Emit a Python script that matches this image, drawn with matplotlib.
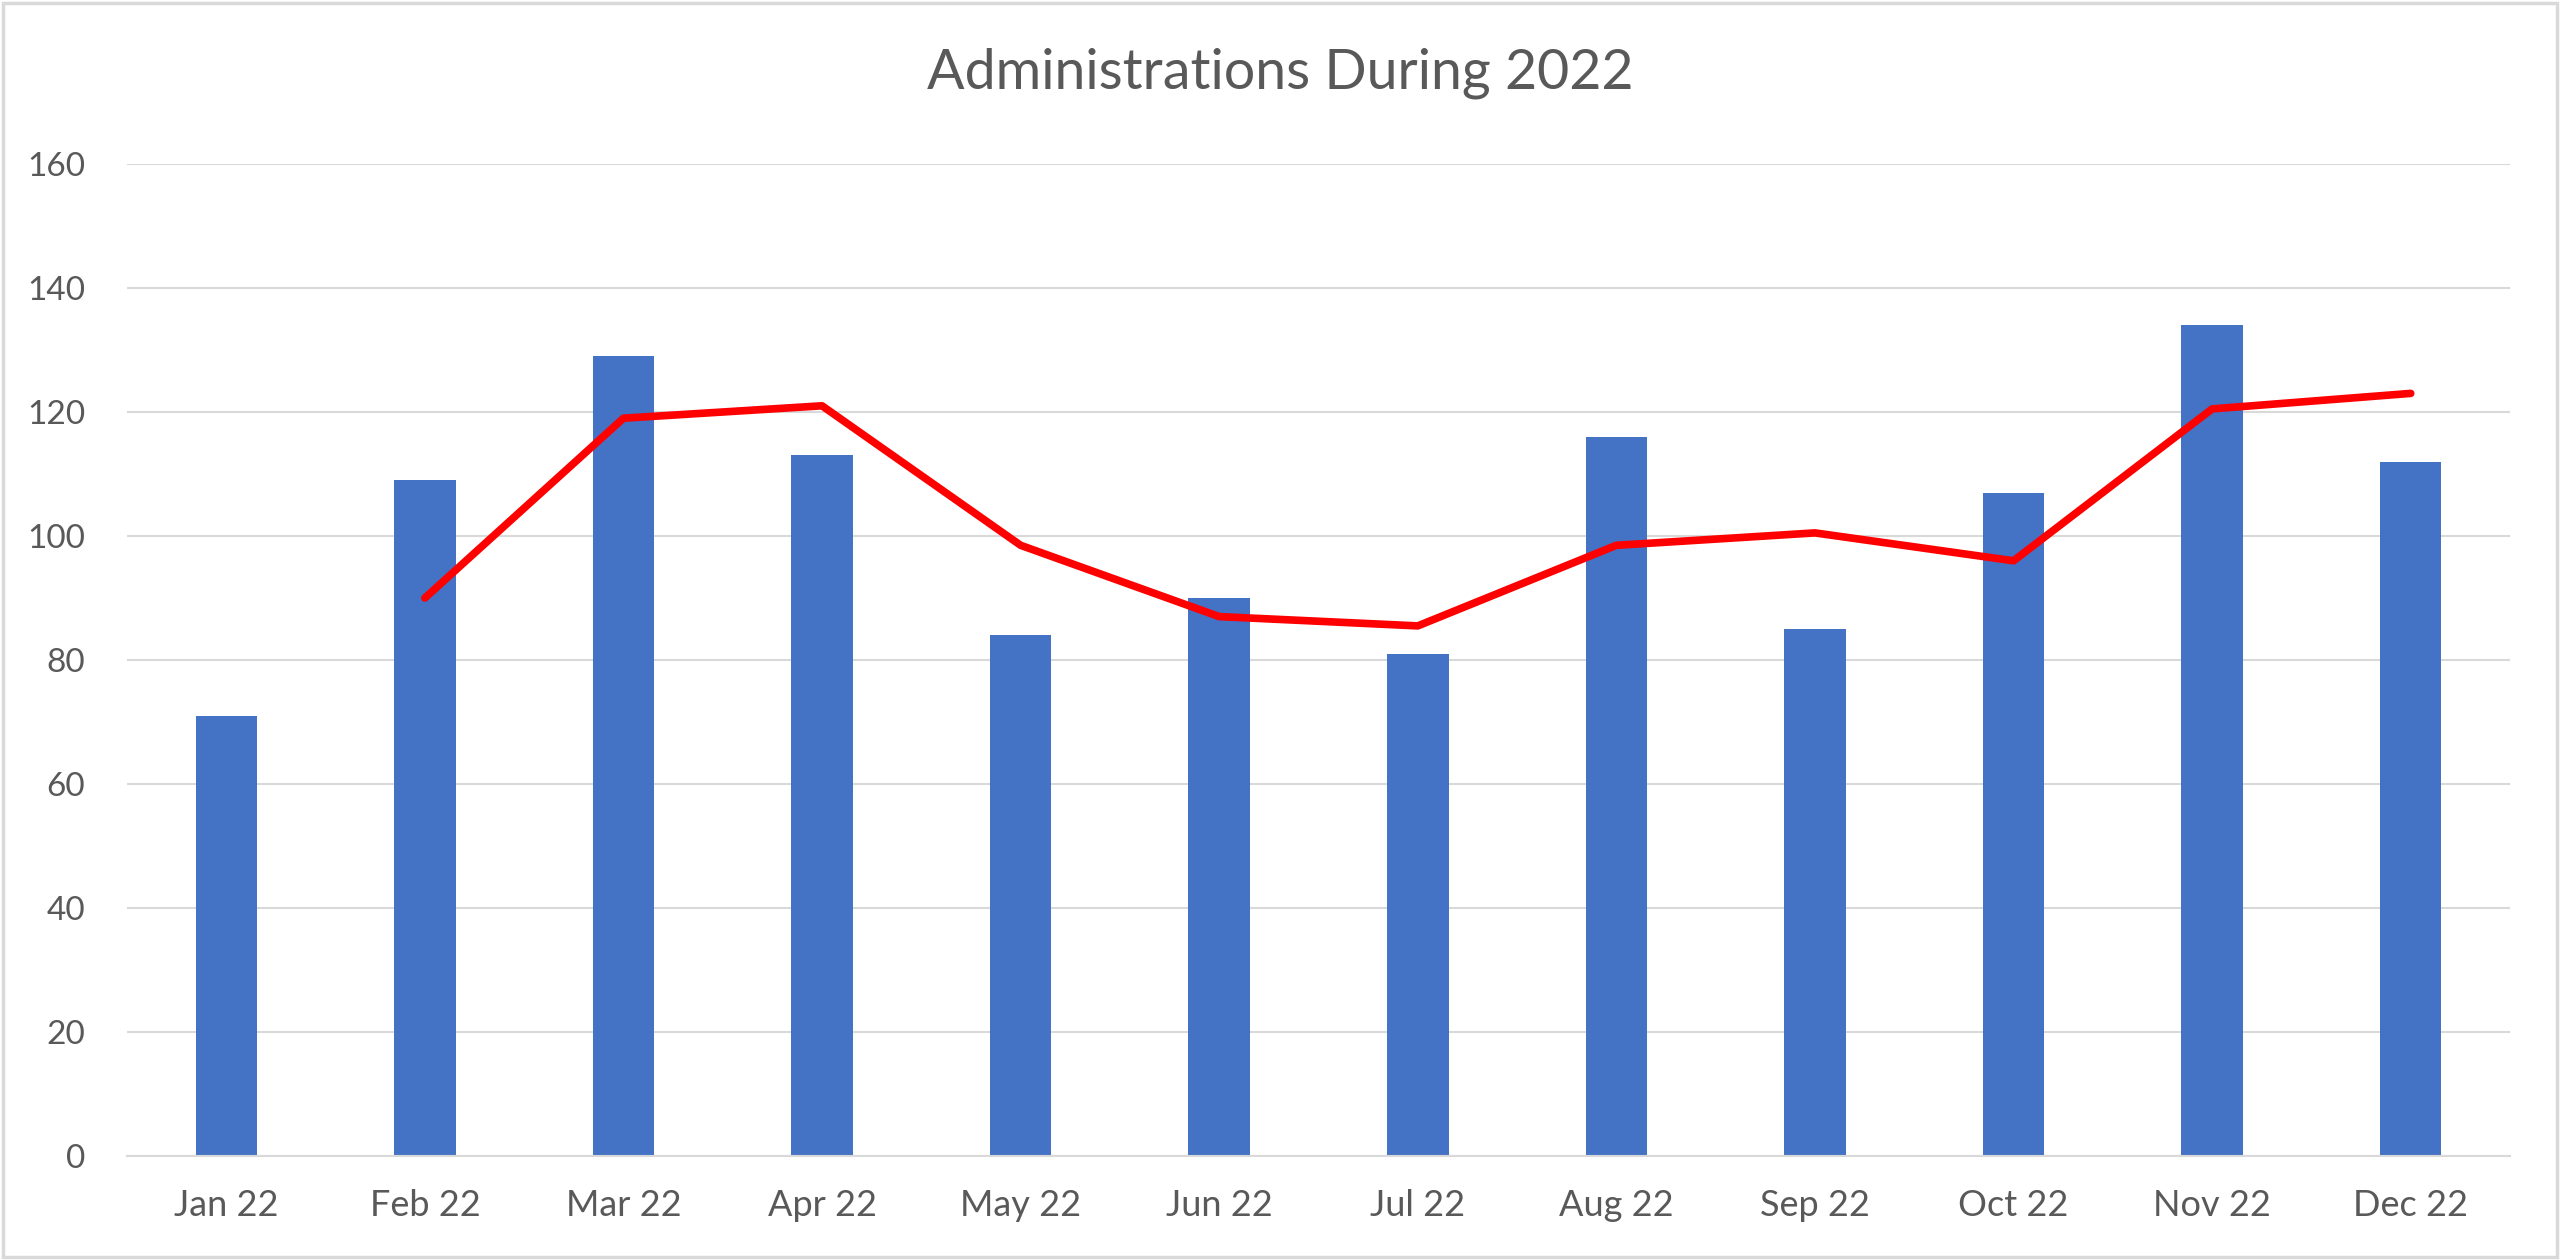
import matplotlib
matplotlib.use("Agg")
import matplotlib.pyplot as plt
from matplotlib.patches import Rectangle

months = ["Jan 22", "Feb 22", "Mar 22", "Apr 22", "May 22", "Jun 22",
          "Jul 22", "Aug 22", "Sep 22", "Oct 22", "Nov 22", "Dec 22"]
administrations = [71, 109, 129, 113, 84, 90, 81, 116, 85, 107, 134, 112]
trend_months = months[1:]
trend_values = [90, 119, 121, 98.5, 87, 85.5, 98.5, 100.5, 96, 120.5, 123]
y_ticks = [0, 20, 40, 60, 80, 100, 120, 140, 160]

plt.rcParams['font.family'] = ['Lato', 'DejaVu Sans']
text_color = "#595959"

fig = plt.figure(figsize=(25.6, 12.6), dpi=100)
ax = fig.add_axes([127/2560, 1 - 1156/1260, (2510-127)/2560, (1156-164)/1260])

x = list(range(len(months)))
ax.bar(x, administrations, width=0.31, color="#4472C4", zorder=2)
tx = [months.index(m) for m in trend_months]
ax.plot(tx, trend_values, color="#FF0000", linewidth=5.5, zorder=3,
        solid_capstyle='round', solid_joinstyle='round')

ax.set_xlim(-0.5, len(months) - 0.5)
ax.set_ylim(0, 160)
ax.set_yticks(y_ticks)
ax.set_xticks(x)
ax.set_xticklabels(months)
ax.grid(axis='y', color="#d9d9d9", linewidth=1.5, zorder=0)
ax.set_axisbelow(True)
for s in ['top', 'right', 'left']:
    ax.spines[s].set_visible(False)
ax.spines['bottom'].set_color("#d9d9d9")
ax.spines['bottom'].set_linewidth(1.5)
ax.tick_params(axis='both', length=0, labelcolor=text_color)
ax.tick_params(axis='x', pad=24, labelsize=26)
ax.tick_params(axis='y', pad=30, labelsize=24)

fig.text(0.5, 1 - 73/1260, "Administrations During 2022", ha='center', va='center',
         fontsize=40, color=text_color)

fig.patches.append(Rectangle((0.001, 0.002), 0.998, 0.996, transform=fig.transFigure,
                             fill=False, edgecolor="#d9d9d9", linewidth=2.5))

fig.savefig("out.png", dpi=100, facecolor="white")
